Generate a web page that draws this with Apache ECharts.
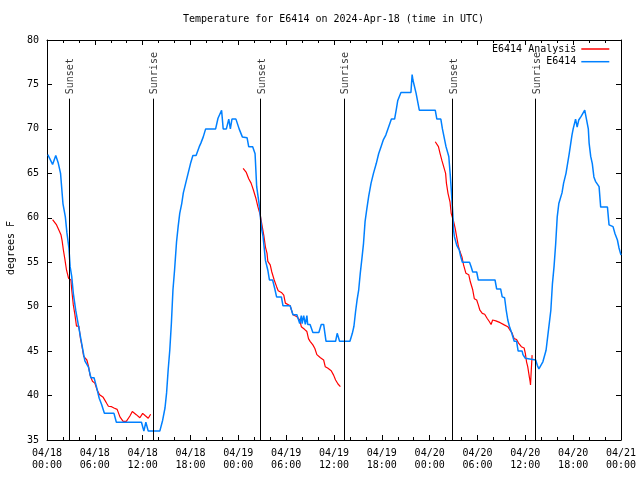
<!DOCTYPE html>
<html><head><meta charset="utf-8">
<script src="https://cdn.jsdelivr.net/npm/echarts@6/dist/echarts.min.js"></script>
<style>html,body{margin:0;padding:0;background:#fff}#c{width:640px;height:480px}</style>
</head><body><div id="c"></div>
<script>
// x values are hours since 2024-04-18 00:00 UTC
const tickLabels = ['04/18\n00:00','04/18\n06:00','04/18\n12:00','04/18\n18:00','04/19\n00:00','04/19\n06:00','04/19\n12:00','04/19\n18:00','04/20\n00:00','04/20\n06:00','04/20\n12:00','04/20\n18:00','04/21\n00:00'];
const sunsetHours = [2.75, 26.8, 50.88];
const sunriseHours = [13.3, 37.23, 61.27];

const e6414 = [[0.1,67.1],[0.7,66.0],[1.1,67.0],[1.4,66.2],[1.7,65.0],[2.0,61.6],[2.3,60.1],[2.5,58.3],[2.75,56.6],[2.9,54.5],[3.1,53.4],[3.3,51.5],[3.6,49.6],[3.9,48.1],[4.2,46.6],[4.5,45.1],[4.75,43.9],[5.2,43.2],[5.5,42.0],[5.9,42.0],[6.2,41.0],[6.55,39.7],[6.85,39.0],[7.2,38.0],[8.4,38.0],[8.7,37.0],[11.85,37.0],[12.15,36.0],[12.4,37.0],[12.7,36.0],[14.15,36.0],[14.5,37.2],[14.8,38.6],[15.0,40.3],[15.2,42.9],[15.4,45.1],[15.6,48.1],[15.8,51.9],[16.0,54.1],[16.25,57.3],[16.45,59.0],[16.65,60.5],[16.9,61.6],[17.1,62.8],[17.4,63.9],[17.7,65.0],[18.0,66.1],[18.3,67.0],[18.7,67.0],[19.1,68.0],[19.3,68.4],[19.6,69.1],[19.9,70.0],[21.15,70.0],[21.45,71.2],[21.9,72.1],[22.1,70.0],[22.5,70.0],[22.8,71.1],[23.0,70.0],[23.2,71.1],[23.7,71.1],[24.1,70.0],[24.5,69.1],[25.1,69.0],[25.3,68.0],[25.8,68.0],[26.1,67.2],[26.3,63.5],[26.6,61.6],[26.8,59.8],[26.95,58.6],[27.1,57.9],[27.4,55.2],[27.7,54.1],[27.9,53.0],[28.3,53.0],[28.55,52.1],[28.8,51.1],[29.4,51.1],[29.6,50.1],[30.5,50.1],[30.85,49.1],[31.35,49.1],[31.7,48.1],[31.9,49.0],[32.0,48.1],[32.2,49.0],[32.4,48.0],[32.6,49.0],[32.7,48.0],[33.0,48.0],[33.35,47.1],[34.1,47.1],[34.4,48.0],[34.7,48.0],[35.0,46.1],[36.2,46.1],[36.4,47.0],[36.7,46.1],[38.0,46.1],[38.3,47.0],[38.5,47.8],[38.7,49.4],[38.9,50.8],[39.1,51.9],[39.3,53.8],[39.5,55.4],[39.7,57.1],[39.9,59.6],[40.1,60.9],[40.35,62.4],[40.65,63.9],[40.95,65.0],[41.3,66.1],[41.6,67.2],[41.9,68.0],[42.2,68.8],[42.5,69.3],[42.85,70.2],[43.2,71.1],[43.6,71.1],[43.8,72.1],[44.0,73.2],[44.2,73.2],[44.4,74.1],[45.65,74.1],[45.8,76.1],[45.9,75.5],[46.3,74.0],[46.7,72.1],[48.7,72.1],[48.9,71.1],[49.4,71.1],[49.6,70.0],[49.8,69.8],[50.05,68.0],[50.4,66.9],[50.6,64.6],[50.75,62.6],[50.9,60.5],[51.0,58.6],[51.1,57.9],[51.4,56.9],[51.7,56.4],[51.9,55.6],[52.1,55.0],[53.0,55.0],[53.2,54.5],[53.4,53.9],[53.9,53.9],[54.1,53.0],[56.2,53.0],[56.4,52.0],[56.9,52.0],[57.1,51.1],[57.4,51.0],[57.6,49.6],[57.8,48.5],[58.0,47.8],[58.3,47.0],[58.6,46.1],[58.9,46.1],[59.1,45.0],[59.6,45.0],[59.7,44.6],[60.0,44.2],[60.15,44.0],[61.3,44.0],[61.5,43.4],[61.7,43.0],[61.9,43.0],[62.2,43.8],[62.4,44.0],[62.6,45.1],[62.8,46.6],[63.0,48.1],[63.2,49.6],[63.4,52.6],[63.6,54.5],[63.8,57.0],[64.0,60.1],[64.2,61.6],[64.6,62.8],[64.8,63.9],[65.1,65.0],[65.3,66.1],[65.5,67.2],[65.7,68.4],[65.85,69.3],[66.0,70.0],[66.3,71.1],[66.5,70.2],[66.7,71.0],[66.9,71.0],[67.0,71.4],[67.45,72.1],[67.6,71.4],[67.9,70.0],[68.0,68.4],[68.2,66.9],[68.4,66.1],[68.6,64.6],[68.8,64.1],[69.25,63.5],[69.45,61.2],[70.3,61.2],[70.5,59.2],[71.0,59.0],[71.25,58.2],[71.55,57.5],[71.75,56.6],[72.0,55.8]];

const analysisNight1 = [[0.7,59.8],[0.95,59.9],[1.2,59.2],[1.5,58.6],[1.75,58.1],[1.9,57.4],[2.05,56.4],[2.25,55.3],[2.45,54.1],[2.7,53.2],[3.0,53.0],[3.1,51.9],[3.3,50.2],[3.5,49.1],[3.7,47.8],[4.0,47.8],[4.2,46.4],[4.4,45.5],[4.6,44.4],[5.0,44.0],[5.2,43.3],[5.4,42.3],[5.7,41.6],[6.0,41.4],[6.3,40.6],[6.6,40.1],[7.05,39.8],[7.5,39.1],[7.7,38.8],[8.1,38.75],[8.4,38.6],[8.8,38.45],[9.15,37.6],[9.55,37.1],[9.95,37.1],[10.4,37.7],[10.7,38.2],[10.95,38.0],[11.2,37.85],[11.65,37.5],[12.0,38.0],[12.3,37.75],[12.7,37.45],[13.0,37.9]];
const analysisNight2 = [[24.6,65.55],[24.7,65.6],[25.0,65.1],[25.3,64.4],[25.6,63.9],[25.9,63.1],[26.2,62.2],[26.45,61.25],[26.75,60.3],[27.0,59.0],[27.2,58.0],[27.4,56.7],[27.6,56.0],[27.7,55.1],[28.0,54.7],[28.2,53.9],[28.5,53.0],[28.8,52.25],[29.0,51.8],[29.4,51.6],[29.7,51.3],[29.9,50.4],[30.1,50.2],[30.5,50.1],[30.85,49.1],[31.3,48.9],[31.7,48.5],[31.9,47.75],[32.3,47.45],[32.6,47.2],[32.8,46.4],[33.0,46.1],[33.35,45.7],[33.6,45.3],[33.85,44.6],[34.3,44.25],[34.7,44.0],[34.9,43.25],[35.2,43.1],[35.65,42.8],[35.95,42.3],[36.2,41.75],[36.5,41.3],[36.8,41.0]];
const analysisNight3 = [[48.7,68.55],[48.9,68.55],[49.1,68.0],[49.3,67.25],[49.55,66.4],[49.8,66.3],[50.0,65.0],[50.1,63.9],[50.3,62.75],[50.55,61.8],[50.7,60.5],[50.9,60.5],[51.0,59.6],[51.2,58.8],[51.4,57.8],[51.6,56.8],[51.8,56.2],[52.05,55.6],[52.25,54.7],[52.55,53.75],[52.9,53.6],[53.1,52.8],[53.4,51.9],[53.6,50.9],[53.9,50.75],[54.1,50.2],[54.3,49.6],[54.6,49.25],[54.9,49.15],[55.2,48.7],[55.5,48.3],[55.7,48.0],[55.9,48.5],[56.3,48.4],[56.85,48.2],[57.35,47.95],[57.8,47.75],[58.05,47.4],[58.3,47.1],[58.6,46.4],[58.9,46.3],[59.15,45.9],[59.5,45.5],[59.65,45.45],[59.85,45.35],[60.0,44.75],[60.15,43.8],[60.3,43.25],[60.5,42.1],[60.6,41.55],[60.65,41.2],[60.7,42.1],[60.85,44.55]];

const FONT = 'DejaVu Sans Mono';
const txt = {color:'#000', fontFamily:FONT, fontSize:10};
const RED = '#ff0000', BLUE = '#0080ff';

function xAxisDef(pos, showLabels){
  return {type:'value', position:pos, min:0, max:72, interval:6,
    axisLine:{show:true, onZero:false, lineStyle:{color:'#000', width:1}},
    axisTick:{show:true, inside:true, length:5, lineStyle:{color:'#000', width:1}},
    minorTick:{show:true, splitNumber:3, length:3, lineStyle:{color:'#000', width:1}},
    splitLine:{show:false}, minorSplitLine:{show:false},
    axisLabel:Object.assign({show:showLabels, margin:7, lineHeight:12.5,
      formatter:v => tickLabels[Math.round(v/6)]}, txt)};
}
function yAxisDef(pos, showLabels){
  const a = {type:'value', position:pos, min:35, max:80, interval:5,
    axisLine:{show:true, onZero:false, lineStyle:{color:'#000', width:1}},
    axisTick:{show:true, inside:true, length:5, lineStyle:{color:'#000', width:1}},
    splitLine:{show:false},
    axisLabel:Object.assign({show:showLabels, margin:8}, txt)};
  if (showLabels) {
    a.name = 'degrees F'; a.nameLocation = 'middle'; a.nameGap = 31;
    a.nameTextStyle = Object.assign({padding:[0,16,0,0]}, txt);
  }
  return a;
}
function redSeries(data){
  return {type:'line', name:'E6414 Analysis', data:data, showSymbol:false, symbol:'none',
    lineStyle:{color:RED, width:1.2}, itemStyle:{color:RED}, silent:true, z:2};
}
const sunLabels = sunsetHours.map(h => ({value:[h,73.9], name:'Sunset'}))
  .concat(sunriseHours.map(h => ({value:[h,73.9], name:'Sunrise'})));
const sunLines = sunsetHours.concat(sunriseHours).map(h => [{coord:[h,35]},{coord:[h,73.4]}]);

const legendCommon = {orient:'horizontal', right:30.7, padding:0, align:'right', icon:'rect',
  itemWidth:28, itemHeight:1.5, selectedMode:false, textStyle:txt};

const option = {
  animation:false,
  backgroundColor:'#fff',
  title:{text:'Temperature for E6414 on 2024-Apr-18 (time in UTC)', left:183, top:14, padding:0,
    textStyle:Object.assign({fontWeight:'normal'}, txt)},
  legend:[
    Object.assign({data:['E6414 Analysis'], top:44}, legendCommon),
    Object.assign({data:['E6414'], top:56.7}, legendCommon)
  ],
  grid:{left:47, right:19, top:40, bottom:40, containLabel:false, outerBoundsMode:'none'},
  xAxis:[xAxisDef('bottom', true), xAxisDef('top', false)],
  yAxis:[yAxisDef('left', true), yAxisDef('right', false)],
  series:[
    redSeries(analysisNight1), redSeries(analysisNight2), redSeries(analysisNight3),
    {type:'line', name:'E6414', data:e6414, showSymbol:false, symbol:'none',
      lineStyle:{color:BLUE, width:1.5}, itemStyle:{color:BLUE}, silent:true, z:3},
    {type:'scatter', name:'sun', data:sunLabels, symbolSize:0, silent:true, z:4,
      label:{show:true, position:'inside', rotate:90, align:'left', verticalAlign:'middle', offset:[0,1.5],
        formatter:p => p.name, color:'#000', fontFamily:FONT, fontSize:10, textBorderWidth:0},
      markLine:{silent:true, symbol:['none','none'], label:{show:false}, animation:false,
        lineStyle:{color:'#000', width:1, type:'solid'}, emphasis:{disabled:true}, data:sunLines}}
  ]
};
const chart = echarts.init(document.getElementById('c'), null, {renderer:'canvas'});
chart.setOption(option);
</script></body></html>
